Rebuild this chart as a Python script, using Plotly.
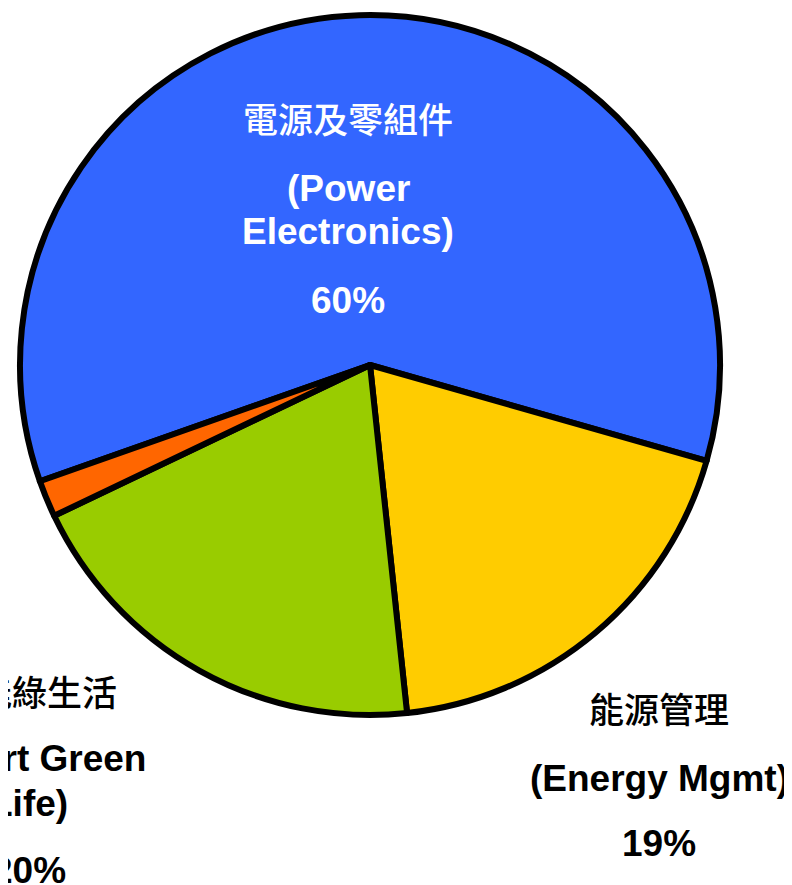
import plotly.graph_objects as go

# Data
categories = ["電源及零組件 (Power Electronics)", "能源管理 (Energy Mgmt)",
              "智能綠生活 (Smart Green Life)", "其他 (Others)"]
values = [59.8, 18.9, 19.6, 1.7]
colors = ["#3366FF", "#FFCC00", "#99CC00", "#FF6600"]

# Label lines for each labelled slice: (cjk, english lines, percent)
label_cjk = ["電源及零組件", "能源管理", "智能綠生活"]
label_en = [["(Power", "Electronics)"], ["(Energy Mgmt)"], ["(Smart Green", "Life)"]]
label_pct = ["60%", "19%", "20%"]
label_color = ["white", "black", "black"]

W, H = 792, 885
OFF = 8  # page body margin
cx, cy, r = 370 - OFF, 365 - OFF, 350

fig = go.Figure(go.Pie(
    labels=categories,
    values=values,
    sort=False,
    direction="clockwise",
    rotation=250.6,
    marker=dict(colors=colors, line=dict(color="black", width=6)),
    textinfo="none",
    hoverinfo="label+percent",
    showlegend=False,
    domain=dict(x=[(cx - r) / W, (cx + r) / W], y=[1 - (cy + r) / H, 1 - (cy - r) / H]),
))

# label layout (pixel positions of line centres, in screenshot pixels)
label_x = [348, 659, 29]
label_y = [[118, 188, 232, 300], [707, 778, 843], [690, 758, 803, 870]]

EN = "Arial, Liberation Sans, sans-serif"
CJK = "Noto Sans CJK TC, sans-serif"

annotations = []
for i in range(3):
    lines = [(label_cjk[i], CJK, False)] + [(t, EN, True) for t in label_en[i]] + [(label_pct[i], EN, True)]
    for (txt, fam, is_en), py in zip(lines, label_y[i]):
        annotations.append(dict(
            x=(label_x[i] - OFF) / W, y=1 - (py - OFF) / H, xref="paper", yref="paper",
            xanchor="center", yanchor="middle", showarrow=False,
            text=f"<b>{txt}</b>" if is_en else txt,
            font=dict(family=fam, size=37 if is_en else 35, color=label_color[i],
                      weight="bold" if is_en else 500),
        ))

fig.update_layout(
    width=W, height=H,
    margin=dict(l=0, r=0, t=0, b=0),
    paper_bgcolor="white", plot_bgcolor="white",
    annotations=annotations,
)

fig.write_html("out.html")
